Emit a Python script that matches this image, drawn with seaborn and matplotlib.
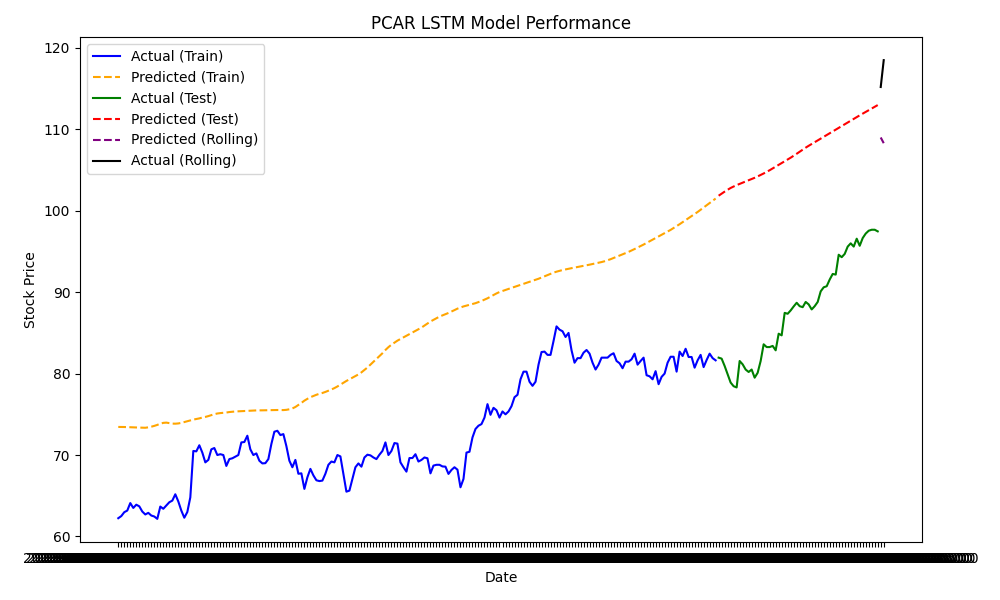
import matplotlib
matplotlib.use("Agg")
import matplotlib.pyplot as plt
import seaborn as sns
import pandas as pd

# ---- categories (trading dates, as strings) ----
all_dates = [str(d) for d in pd.bdate_range("2023-01-03", periods=256, tz="America/New_York")]
train_dates = all_dates[:200]
test_dates = all_dates[200:254]
rolling_dates = all_dates[254:256]

# ---- series values ----
actual_train = [
    62.24, 62.50, 62.98, 63.18, 64.10, 63.50, 63.90, 63.70, 63.06, 62.70,
    62.90, 62.57, 62.45, 62.16, 63.67, 63.40, 63.80, 64.20, 64.40, 65.18,
    64.30, 63.18, 62.30, 63.00, 64.80, 70.50, 70.45, 71.20, 70.30, 69.10,
    69.40, 70.70, 70.86, 70.00, 70.10, 70.00, 68.66, 69.50, 69.60, 69.80,
    70.00, 71.55, 71.60, 72.37, 70.70, 70.00, 70.20, 69.30, 68.97, 69.00,
    69.50, 71.35, 72.86, 72.98, 72.45, 72.57, 71.10, 69.30, 68.50, 69.40,
    67.70, 67.75, 65.84, 67.26, 68.30, 67.50, 66.90, 66.80, 66.86, 67.70,
    68.80, 69.20, 69.10, 70.00, 69.83, 67.68, 65.50, 65.63, 67.06, 68.50,
    68.97, 68.57, 69.70, 70.04, 69.96, 69.70, 69.50, 70.04, 70.50, 71.55,
    70.00, 70.50, 71.47, 71.40, 69.10, 68.50, 67.96, 69.63, 69.63, 70.10,
    69.20, 69.40, 69.70, 69.60, 67.75, 68.70, 68.80, 68.80, 68.60, 68.57,
    67.68, 68.17, 68.50, 68.20, 66.04, 67.06, 70.30, 70.40, 72.16, 73.20,
    73.60, 73.80, 74.60, 76.25, 74.94, 75.80, 75.50, 74.60, 75.35, 75.00,
    75.35, 76.00, 77.10, 77.40, 79.30, 80.24, 80.24, 79.00, 78.50, 79.00,
    81.10, 82.65, 82.70, 82.30, 82.30, 84.00, 85.80, 85.40, 85.20, 84.50,
    85.00, 82.86, 81.34, 81.90, 81.90, 82.57, 82.90, 82.45, 81.34, 80.50,
    81.10, 81.96, 81.96, 81.96, 82.30, 82.50, 81.55, 81.27, 80.66, 81.47,
    81.47, 81.76, 82.45, 81.10, 81.55, 81.96, 79.80, 79.67, 79.30, 80.30,
    78.70, 79.60, 80.00, 81.34, 82.07, 82.07, 80.24, 82.70, 82.16, 83.05,
    82.04, 82.04, 80.73, 81.63, 82.30, 80.80, 81.67, 82.45, 81.90, 81.63,
]

predicted_train = [
    73.45, 73.45, 73.44, 73.43, 73.42, 73.40, 73.38, 73.37, 73.36, 73.35,
    73.40, 73.48, 73.58, 73.70, 73.85, 73.95, 73.98, 73.92, 73.86, 73.85,
    73.88, 73.95, 74.05, 74.15, 74.25, 74.35, 74.42, 74.50, 74.60, 74.68,
    74.78, 74.90, 75.02, 75.10, 75.15, 75.18, 75.22, 75.28, 75.32, 75.35,
    75.37, 75.40, 75.42, 75.44, 75.46, 75.47, 75.48, 75.48, 75.49, 75.50,
    75.50, 75.51, 75.52, 75.53, 75.53, 75.52, 75.55, 75.62, 75.72, 75.90,
    76.15, 76.40, 76.68, 76.90, 77.10, 77.25, 77.40, 77.52, 77.62, 77.75,
    77.90, 78.05, 78.22, 78.42, 78.65, 78.88, 79.10, 79.30, 79.50, 79.70,
    79.90, 80.15, 80.45, 80.75, 81.10, 81.45, 81.80, 82.15, 82.50, 82.90,
    83.25, 83.55, 83.80, 84.05, 84.25, 84.45, 84.65, 84.85, 85.05, 85.25,
    85.45, 85.65, 85.90, 86.15, 86.40, 86.60, 86.80, 87.00, 87.15, 87.30,
    87.45, 87.62, 87.80, 87.98, 88.12, 88.25, 88.35, 88.45, 88.55, 88.65,
    88.78, 88.92, 89.08, 89.25, 89.45, 89.65, 89.85, 90.02, 90.15, 90.28,
    90.40, 90.52, 90.65, 90.78, 90.90, 91.02, 91.15, 91.28, 91.40, 91.52,
    91.65, 91.80, 91.95, 92.10, 92.25, 92.40, 92.52, 92.62, 92.72, 92.80,
    92.88, 92.95, 93.02, 93.08, 93.15, 93.22, 93.30, 93.38, 93.46, 93.55,
    93.62, 93.70, 93.80, 93.92, 94.05, 94.20, 94.35, 94.50, 94.65, 94.80,
    94.95, 95.12, 95.30, 95.48, 95.66, 95.85, 96.05, 96.25, 96.45, 96.65,
    96.85, 97.05, 97.25, 97.45, 97.65, 97.88, 98.10, 98.35, 98.60, 98.85,
    99.10, 99.35, 99.60, 99.85, 100.12, 100.40, 100.68, 100.95, 101.22, 101.50,
]

actual_test = [
    81.96, 81.84, 80.94, 79.92, 78.90, 78.45, 78.30, 81.55, 81.14, 80.50,
    80.20, 80.50, 79.50, 80.10, 81.55, 83.60, 83.26, 83.26, 83.40, 82.86,
    84.90, 84.70, 87.46, 87.35, 87.76, 88.25, 88.70, 88.28, 88.16, 88.80,
    88.50, 87.88, 88.28, 88.80, 90.10, 90.60, 90.73, 91.55, 92.24, 92.16,
    94.60, 94.30, 94.70, 95.60, 96.00, 95.60, 96.57, 95.70, 96.65, 97.20,
    97.55, 97.67, 97.67, 97.47,
]

predicted_test = [
    101.85, 102.10, 102.35, 102.58, 102.80, 102.98, 103.15, 103.30, 103.45, 103.60,
    103.75, 103.90, 104.05, 104.22, 104.40, 104.58, 104.78, 104.98, 105.20, 105.42,
    105.64, 105.86, 106.08, 106.30, 106.52, 106.76, 107.00, 107.25, 107.50, 107.75,
    107.98, 108.20, 108.42, 108.64, 108.86, 109.08, 109.30, 109.52, 109.74, 109.96,
    110.18, 110.40, 110.62, 110.84, 111.06, 111.28, 111.50, 111.72, 111.93, 112.14,
    112.35, 112.56, 112.77, 112.98,
]

predicted_rolling = [109.0, 108.3]
actual_rolling = [115.2, 118.5]

# ---- plot ----
fig, ax = plt.subplots(figsize=(10, 6), dpi=100)

sns.lineplot(x=train_dates, y=actual_train, color="blue", label="Actual (Train)", sort=False, ax=ax)
sns.lineplot(x=train_dates, y=predicted_train, color="orange", label="Predicted (Train)", sort=False, ax=ax)
sns.lineplot(x=test_dates, y=actual_test, color="green", label="Actual (Test)", sort=False, ax=ax)
sns.lineplot(x=test_dates, y=predicted_test, color="red", label="Predicted (Test)", sort=False, ax=ax)
sns.lineplot(x=rolling_dates, y=predicted_rolling, color="purple", label="Predicted (Rolling)", sort=False, ax=ax)
sns.lineplot(x=rolling_dates, y=actual_rolling, color="black", label="Actual (Rolling)", sort=False, ax=ax)

for idx in (1, 3, 4):
    ax.lines[idx].set_linestyle("--")
leg = ax.legend(loc="upper left")
handles = leg.legend_handles if hasattr(leg, "legend_handles") else leg.legendHandles
for idx in (1, 3, 4):
    handles[idx].set_linestyle("--")

ax.set_title("PCAR LSTM Model Performance")
ax.set_xlabel("Date")
ax.set_ylabel("Stock Price")

fig.subplots_adjust(left=0.080, right=0.922, top=0.938, bottom=0.097)
fig.savefig("out.png", dpi=100)
